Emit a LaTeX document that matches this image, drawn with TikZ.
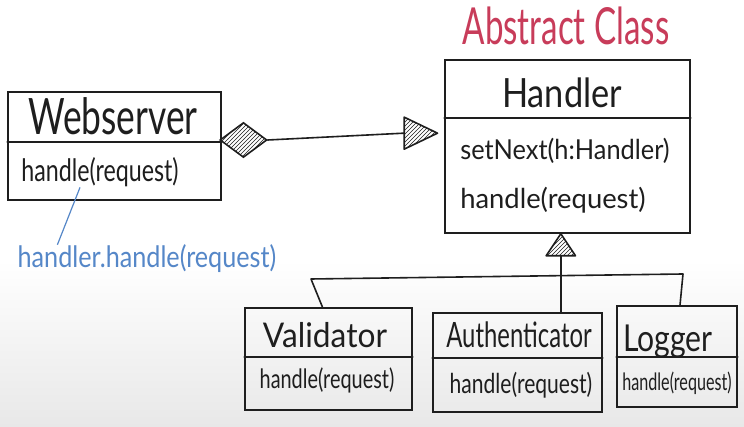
\documentclass[tikz,border=0pt]{standalone}
\usepackage{fontspec}
\usepackage{graphicx}
\setmainfont{Lato}
\usetikzlibrary{patterns,shapes.geometric}
\definecolor{ink}{RGB}{30,30,30}
\definecolor{redink}{RGB}{200,60,90}
\definecolor{blueink}{RGB}{85,135,200}
\newcommand{\fitwh}[3]{\resizebox*{#1}{#2}{#3}}
\begin{document}
\begin{tikzpicture}[x=0.75pt,y=-0.75pt,
  box/.style={draw=ink, line width=1.2pt, rectangle, inner sep=0pt},
  lbl/.style={text=ink, inner sep=0pt},
  ink line/.style={draw=ink, line width=1.2pt, line cap=round, line join=round},
  hatch/.style={pattern=north east lines, pattern color=ink}]
\useasboundingbox (0,0) rectangle (744,427);
\fill[white] (0,0) rectangle (744,427);
\shade[top color=white, bottom color=black!9] (0,260) rectangle (744,427);

% class boxes
\node[box, minimum width=213*0.75pt, minimum height=108*0.75pt] (web) at (114.5,146) {};
\node[box, minimum width=245*0.75pt, minimum height=173*0.75pt] (handler) at (567.5,146.5) {};
\node[box, minimum width=167*0.75pt, minimum height=102*0.75pt] (val) at (328.5,359) {};
\node[box, minimum width=169*0.75pt, minimum height=99*0.75pt] (auth) at (517.5,362.5) {};
\node[box, minimum width=120*0.75pt, minimum height=101*0.75pt] (log) at (677,356.5) {};

% dividers
\draw[ink line] (web.west |- 0,142) -- (web.east |- 0,142);
\draw[ink line] (handler.west |- 0,118) -- (handler.east |- 0,118);
\draw[ink line] (val.west |- 0,357) -- (val.east |- 0,357);
\draw[ink line] (auth.west |- 0,358) -- (auth.east |- 0,358);
\draw[ink line] (log.west |- 0,357) -- (log.east |- 0,357);

% texts
\node[lbl] (webtitle) at (113,116.5) {\fitwh{127pt}{28pt}{Webserver}};
\node[lbl] (webhandle) at (100,172.5) {\fitwh{118pt}{22pt}{handle(request)}};
\node[lbl] (htitle) at (562,93) {\fitwh{90pt}{22.5pt}{Handler}};
\node[lbl] (hset) at (565,150.5) {\fitwh{157pt}{19pt}{setNext(h:Handler)}};
\node[lbl] (hhandle) at (553,200) {\fitwh{139pt}{19.5pt}{handle(request)}};
\node[lbl, text=redink] (abs) at (566,26) {\fitwh{155pt}{28.5pt}{Abstract Class}};
\node[lbl] (valtitle) at (325,335.5) {\fitwh{93pt}{19pt}{Validator}};
\node[lbl] (valhandle) at (327,380.5) {\fitwh{101pt}{19pt}{handle(request)}};
\node[lbl] (authtitle) at (519,335) {\fitwh{109pt}{19.5pt}{Authenticator}};
\node[lbl] (authhandle) at (521,385) {\fitwh{107pt}{19.5pt}{handle(request)}};
\node[lbl] (logtitle) at (668,341.5) {\fitwh{67pt}{25pt}{Logger}};
\node[lbl] (loghandle) at (677,383.5) {\fitwh{82pt}{17pt}{handle(request)}};
\node[lbl, text=blueink] (note) at (147,259) {\fitwh{194pt}{21pt}{handler.handle(request)}};

% note connector
\draw[blueink, line width=0.9pt] ([xshift=-15pt]webhandle.south) -- ([xshift=30pt]note.north west);

% composition diamond to Handler
\node[draw=ink, line width=1.2pt, hatch, shape=diamond, minimum width=47*0.75pt, minimum height=35*0.75pt,
      inner sep=0pt, anchor=west] (dia) at ([xshift=-2pt,yshift=4.5pt]web.east) {};
\coordinate (tip) at ([xshift=-5pt,yshift=10pt]handler.west);
\coordinate (tbase) at ([xshift=-25pt]tip);
\draw[ink line] (dia.east) -- (tbase);
\filldraw[ink line, fill=white] (tip) -- ([yshift=12pt]tbase) -- ([yshift=-12pt]tbase) -- cycle;
\fill[hatch] (tip) -- ([yshift=12pt]tbase) -- ([yshift=-12pt]tbase) -- cycle;

% inheritance
\coordinate (itip) at ([xshift=-5pt]handler.south);
\coordinate (ibase) at ([yshift=-16.5pt]itip);
\filldraw[ink line, fill=white] (itip) -- ([xshift=-11pt]ibase) -- ([xshift=11pt]ibase) -- cycle;
\fill[hatch] (itip) -- ([xshift=-11pt]ibase) -- ([xshift=11pt]ibase) -- cycle;
\draw[ink line] (ibase) -- (ibase |- auth.north);
\coordinate (jL) at (311,279);
\coordinate (jR) at (683,274);
\draw[ink line] ([xshift=-4.5pt]val.north) -- (jL) -- (jR) -- ([xshift=2.25pt]log.north);
\end{tikzpicture}
\end{document}
